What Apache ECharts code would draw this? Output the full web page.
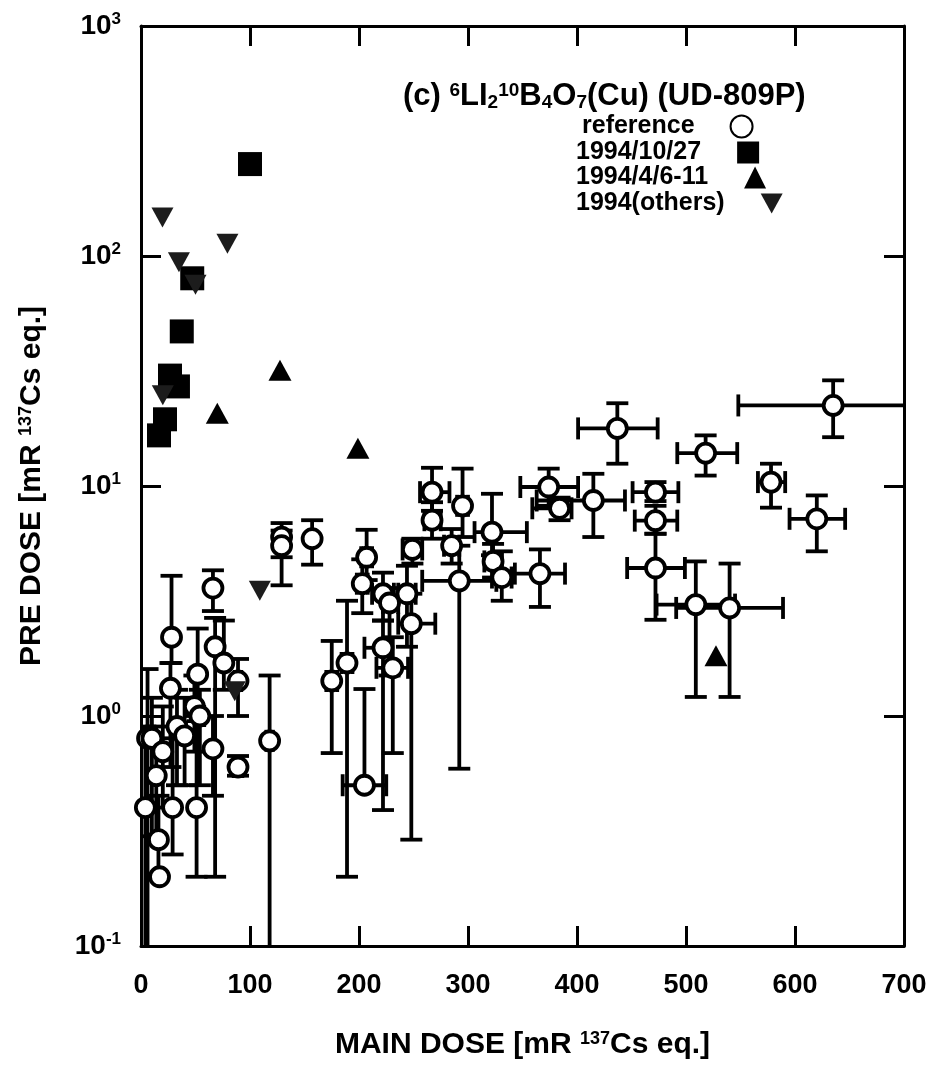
<!DOCTYPE html>
<html>
<head>
<meta charset="utf-8">
<script src="https://cdn.jsdelivr.net/npm/echarts@6/dist/echarts.min.js"></script>
<style>
html,body{margin:0;padding:0;background:#fff;}
#chart{width:938px;height:1070px;}
</style>
</head>
<body>
<div id="chart"></div>
<script>
// ---- data: [mainDose, preDose, xLow, xHigh, yLow, yHigh] ----
const referencePoints = [
  [4, 0.40, 4, 4, 0.1, 0.9],
  [6, 0.80, 6, 6, 0.1, 1.6],
  [10, 0.80, 10, 10, 0.3, 1.2],
  [14, 0.55, 14, 14, 0.3, 0.9],
  [16, 0.29, 16, 16, 0.2, 0.45],
  [17, 0.20, 17, 17, 0.2, 0.2],
  [20, 0.70, 20, 20, 0.4, 1.1],
  [27, 1.32, 27, 27, 0.6, 1.7],
  [28, 2.20, 28, 28, 1.7, 4.07],
  [29, 0.40, 29, 29, 0.25, 0.8],
  [33, 0.90, 33, 33, 0.5, 1.3],
  [40, 0.82, 40, 40, 0.5, 1.2],
  [49, 1.10, 49, 49, 0.7, 1.5],
  [51, 0.40, 51, 51, 0.2, 1.0],
  [52, 1.52, 52, 52, 0.95, 2.4],
  [54, 1.00, 50, 58, 0.5, 1.3],
  [66, 3.60, 66, 66, 2.86, 4.3],
  [66, 0.72, 66, 66, 0.45, 1.0],
  [68, 2.00, 68, 68, 0.2, 2.67],
  [76, 1.70, 76, 76, 1.3, 2.6],
  [89, 1.42, 86, 92, 1.0, 1.77],
  [89, 0.60, 85, 93, 0.55, 0.67],
  [118, 0.78, 115, 121, 0.1, 1.5],
  [129, 6.00, 129, 129, 3.7, 6.9],
  [129, 5.50, 129, 129, 4.9, 6.4],
  [157, 5.90, 157, 157, 4.55, 7.1],
  [175, 1.42, 170, 180, 0.69, 2.12],
  [189, 1.70, 184, 194, 0.2, 3.17],
  [203, 3.76, 198, 208, 2.8, 4.8],
  [205, 0.50, 185, 225, 0.5, 1.31],
  [207, 4.90, 202, 212, 3.9, 6.45],
  [222, 3.40, 212, 232, 2.6, 4.2],
  [222, 1.98, 205, 228, 0.39, 2.6],
  [228, 3.10, 222, 236, 1.5, 3.6],
  [231, 1.62, 216, 245, 0.69, 2.2],
  [244, 3.40, 236, 252, 2.0, 4.5],
  [248, 2.52, 236, 270, 0.29, 3.4],
  [249, 5.30, 240, 258, 4.6, 5.9],
  [267, 9.40, 256, 283, 7.8, 12.0],
  [267, 7.10, 260, 275, 5.9, 8.5],
  [285, 5.50, 278, 292, 4.6, 6.5],
  [292, 3.87, 258, 326, 0.59, 5.5],
  [295, 8.20, 290, 300, 6.0, 11.9],
  [322, 6.30, 306, 354, 5.0, 9.25],
  [323, 4.70, 315, 331, 4.0, 5.6],
  [331, 4.00, 322, 340, 3.17, 5.2],
  [366, 4.16, 343, 389, 2.98, 5.3],
  [374, 9.90, 348, 401, 8.2, 11.9],
  [384, 8.00, 359, 395, 7.1, 8.9],
  [415, 8.65, 363, 444, 6.0, 11.3],
  [437, 17.8, 401, 474, 12.5, 22.9],
  [472, 9.40, 451, 493, 8.6, 10.4],
  [472, 7.07, 453, 492, 6.2, 8.2],
  [472, 4.40, 446, 499, 2.62, 6.2],
  [509, 3.05, 473, 545, 1.21, 4.7],
  [518, 13.9, 492, 547, 11.1, 16.6],
  [540, 2.95, 491, 589, 1.21, 4.6],
  [578, 10.4, 566, 591, 8.05, 12.5],
  [620, 7.20, 595, 646, 5.2, 9.1],
  [635, 22.4, 548, 720, 16.3, 28.8]
];
const oct27Points = [
  [100, 251], [47, 80], [37.4, 47], [26.6, 30.2], [33.9, 27.1], [22, 19.5], [16.5, 16.6]
];
const apr6to11Points = [
  [127.5, 31.9], [70, 20.7], [199, 14.6], [527.5, 1.83]
];
const othersPoints = [
  [19.7, 147], [79.3, 113], [34.8, 94], [50, 75], [20, 24.8], [109, 3.5], [86, 1.28]
];
const xTicks = [0, 100, 200, 300, 400, 500, 600, 700];
const seriesNames = ['reference', '1994/10/27', '1994/4/6-11', '1994(others)'];

const FONT = 'Liberation Sans, Arial, sans-serif';
const X_MAX = 700, Y_MIN = 0.1;

const chart = echarts.init(document.getElementById('chart'), null, {renderer: 'canvas'});

function errorBars(params, api) {
  const x = api.value(0), y = api.value(1);
  const xlo = api.value(2), xhi = api.value(3), ylo = api.value(4), yhi = api.value(5);
  const c = api.coord([x, y]);
  const cap = 11;
  const st = {stroke: '#000', lineWidth: 3.8};
  const kids = [];
  function line(x1, y1, x2, y2) {
    kids.push({type: 'line', shape: {x1, y1, x2, y2}, style: st});
  }
  if (yhi > y * 1.001) {
    const t = api.coord([x, yhi]);
    line(c[0], c[1], t[0], t[1]);
    line(t[0] - cap, t[1], t[0] + cap, t[1]);
  }
  if (ylo < y * 0.999) {
    const clipped = ylo <= Y_MIN;
    const b = api.coord([x, Math.max(ylo, Y_MIN)]);
    line(c[0], c[1], b[0], b[1]);
    if (!clipped) line(b[0] - cap, b[1], b[0] + cap, b[1]);
  }
  if (xhi - xlo > 0.5) {
    const clippedR = xhi >= X_MAX;
    const l = api.coord([xlo, y]);
    const r = api.coord([Math.min(xhi, X_MAX), y]);
    line(l[0], l[1], r[0], r[1]);
    line(l[0], l[1] - cap, l[0], l[1] + cap);
    if (!clippedR) line(r[0], r[1] - cap, r[0], r[1] + cap);
  }
  return {type: 'group', children: kids};
}

const axisLineStyle = {show: true, onZero: false, lineStyle: {color: '#000', width: 3}};
const tickStyle = {show: true, inside: true, length: 20, lineStyle: {color: '#000', width: 3}};

function logLabel(v) {
  const e = Math.round(Math.log10(v));
  return '{b|10}{s|' + e + '}';
}

const legendTops = [109, 135, 160, 186];
const legends = seriesNames.map((n, i) => ({
  data: [n],
  orient: 'vertical',
  align: 'right',
  left: i === 0 ? 577 : 571,
  top: legendTops[i],
  itemWidth: 22, itemHeight: 22,
  textStyle: {fontFamily: FONT, fontWeight: 'bold', fontSize: 25, color: '#000', padding: [0, 31, 0, 0]},
  selectedMode: false
}));

const option = {
  animation: false,
  backgroundColor: '#fff',
  title: {
    text: '(c) {sup|6}LI{sub|2}{sup|10}B{sub|4}O{sub|7}(Cu) (UD-809P)',
    left: 398, top: 76,
    textStyle: {
      fontFamily: FONT, fontWeight: 'bold', fontSize: 31, color: '#000',
      rich: {
        sup: {fontFamily: FONT, fontWeight: 'bold', fontSize: 19, verticalAlign: 'top', lineHeight: 19, color: '#000'},
        sub: {fontFamily: FONT, fontWeight: 'bold', fontSize: 19, verticalAlign: 'bottom', lineHeight: 19, color: '#000', padding: [8, 0, 0, 0]}
      }
    }
  },
  legend: legends,
  grid: {left: 141, right: 34, top: 26, bottom: 124, containLabel: false},
  xAxis: [{
    type: 'value', min: 0, max: 700, interval: 100, position: 'bottom',
    axisLine: axisLineStyle, axisTick: tickStyle, splitLine: {show: false},
    axisLabel: {
      margin: 26, fontFamily: FONT, fontWeight: 'bold', fontSize: 27, color: '#000',
      formatter: v => xTicks.includes(v) ? String(v) : ''
    },
    name: 'MAIN DOSE [mR {s|137}Cs eq.]',
    nameLocation: 'middle', nameGap: 84,
    nameTextStyle: {
      fontFamily: FONT, fontWeight: 'bold', fontSize: 30, color: '#000',
      rich: {s: {fontFamily: FONT, fontWeight: 'bold', fontSize: 18, verticalAlign: 'top', lineHeight: 18, color: '#000'}}
    }
  }, {
    type: 'value', min: 0, max: 700, interval: 100, position: 'top',
    axisLine: axisLineStyle, axisTick: tickStyle, splitLine: {show: false},
    axisLabel: {show: false}
  }],
  yAxis: [{
    type: 'log', logBase: 10, min: 0.1, max: 1000, splitNumber: 4, position: 'left',
    axisLine: axisLineStyle, axisTick: tickStyle, minorTick: {show: false}, splitLine: {show: false},
    axisLabel: {
      margin: 20, formatter: logLabel,
      rich: {
        b: {fontFamily: FONT, fontWeight: 'bold', fontSize: 28, color: '#000', lineHeight: 30},
        s: {fontFamily: FONT, fontWeight: 'bold', fontSize: 17, color: '#000', verticalAlign: 'top', lineHeight: 17}
      }
    },
    name: 'PRE DOSE [mR {s|137}Cs eq.]',
    nameLocation: 'middle', nameGap: 94, nameRotate: 90,
    nameTextStyle: {
      fontFamily: FONT, fontWeight: 'bold', fontSize: 30, color: '#000',
      rich: {s: {fontFamily: FONT, fontWeight: 'bold', fontSize: 18, verticalAlign: 'top', lineHeight: 18, color: '#000'}}
    }
  }, {
    type: 'log', logBase: 10, min: 0.1, max: 1000, splitNumber: 4, position: 'right',
    axisLine: axisLineStyle, axisTick: tickStyle, minorTick: {show: false}, splitLine: {show: false},
    axisLabel: {show: false}
  }],
  series: [
    {
      name: 'errors', type: 'custom', renderItem: errorBars, data: referencePoints,
      xAxisIndex: 0, yAxisIndex: 0, z: 2, silent: true, clip: true
    },
    {
      name: seriesNames[0], type: 'scatter', data: referencePoints.map(p => [p[0], p[1]]),
      symbol: 'circle', symbolSize: 19, z: 3,
      itemStyle: {color: '#fff', borderColor: '#000', borderWidth: 3.8, opacity: 1}
    },
    {
      name: seriesNames[1], type: 'scatter', data: oct27Points,
      symbol: 'rect', symbolSize: 24, z: 4,
      itemStyle: {color: '#000', opacity: 1}
    },
    {
      name: seriesNames[2], type: 'scatter', data: apr6to11Points,
      symbol: 'triangle', symbolSize: [23, 21], z: 4,
      itemStyle: {color: '#000', opacity: 1}
    },
    {
      name: seriesNames[3], type: 'scatter', data: othersPoints,
      symbol: 'path://M0,0 L22,0 L11,20 Z', symbolSize: [22, 20], z: 5,
      itemStyle: {color: '#1c1c1c', opacity: 1}
    }
  ]
};
chart.setOption(option);
</script>
</body>
</html>
